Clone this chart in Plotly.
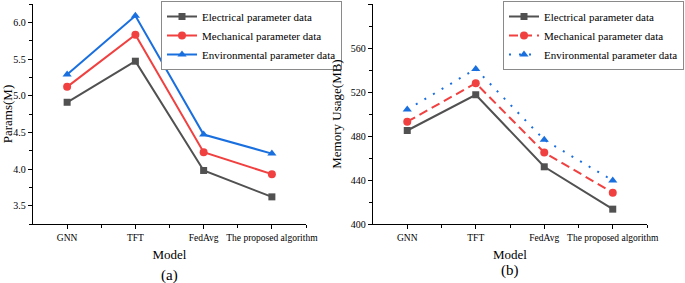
import plotly.graph_objects as go
from plotly.subplots import make_subplots

models = ["GNN", "TFT", "FedAvg", "The proposed algorithm"]
series_names = ["Electrical parameter data", "Mechanical parameter data", "Environmental parameter data"]

params_electrical = [4.91, 5.47, 3.98, 3.62]
params_mechanical = [5.12, 5.83, 4.23, 3.93]
params_environmental = [5.29, 6.09, 4.47, 4.21]

mem_electrical = [485, 517.5, 452, 413.5]
mem_mechanical = [493, 528, 465, 428.5]
mem_environmental = [504, 541, 476.5, 439.5]

colors = ["#515151", "#F14040", "#1A6FDF"]
symbols = ["square", "circle", "triangle-up"]
msizes = [7, 8, 8]
FONT = "Liberation Serif"

xpos = list(range(len(models)))

fig = make_subplots(rows=1, cols=2, horizontal_spacing=0.1)

left_data = [params_electrical, params_mechanical, params_environmental]
right_data = [mem_electrical, mem_mechanical, mem_environmental]
right_dash = ["solid", "9px,5px", "2px,8px"]

for i, (name, vals) in enumerate(zip(series_names, left_data)):
    fig.add_trace(go.Scatter(
        x=xpos, y=vals, name=name, mode="lines+markers",
        line=dict(color=colors[i], width=2),
        marker=dict(symbol=symbols[i], size=msizes[i], color=colors[i]),
        legend="legend"), row=1, col=1)

for i, (name, vals) in enumerate(zip(series_names, right_data)):
    fig.add_trace(go.Scatter(
        x=xpos, y=vals, name=name, mode="lines+markers",
        line=dict(color=colors[i], width=2, dash=right_dash[i]),
        marker=dict(symbol=symbols[i], size=msizes[i], color=colors[i]),
        legend="legend2"), row=1, col=2)

xaxis_common = dict(
    tickmode="array", tickvals=xpos, ticktext=models, range=[-0.5, 3.5],
    showline=True, linecolor="black", linewidth=1.3, ticks="outside",
    ticklen=4, tickcolor="black", showgrid=False, zeroline=False, tickangle=0,
    tickfont=dict(family=FONT, size=9.5, color="black"),
    minor=dict(tickvals=[0.5, 1.5, 2.5, 3.5], ticks="outside", ticklen=3, tickcolor="black"),
    title=dict(text="Model", font=dict(family=FONT, size=13, color="black"), standoff=8),
)
fig.update_xaxes(**xaxis_common, domain=[33/685, 306/685], row=1, col=1)
fig.update_xaxes(**xaxis_common, domain=[373/685, 647/685], row=1, col=2)

yaxis_common = dict(
    showline=True, linecolor="black", linewidth=1.3, ticks="outside",
    ticklen=4, tickcolor="black", showgrid=False, zeroline=False,
    tickfont=dict(family=FONT, size=10, color="black"),
)
fig.update_yaxes(**yaxis_common, range=[3.25, 6.25], tickvals=[3.5, 4.0, 4.5, 5.0, 5.5, 6.0],
                 tickformat=".1f",
                 minor=dict(tickvals=[3.25, 3.75, 4.25, 4.75, 5.25, 5.75, 6.25], ticks="outside",
                            ticklen=3, tickcolor="black"),
                 title=dict(text="Params(M)", font=dict(family=FONT, size=13, color="black"), standoff=6),
                 row=1, col=1)
fig.update_yaxes(**yaxis_common, range=[400, 600], tickvals=[400, 440, 480, 520, 560, 600],
                 minor=dict(tickvals=[420, 460, 500, 540, 580], ticks="outside",
                            ticklen=3, tickcolor="black"),
                 title=dict(text="Memory Usage(MB)", font=dict(family=FONT, size=13, color="black"), standoff=6),
                 row=1, col=2)

fig.update_layout(
    width=685, height=283,
    margin=dict(l=0, r=0, t=4, b=59, autoexpand=False),
    paper_bgcolor="white", plot_bgcolor="white",
    font=dict(family=FONT, color="black"),
    showlegend=True,
)
for key, xpix in (("legend", 161), ("legend2", 503)):
    fig.layout[key] = dict(
        font=dict(family=FONT, size=11, color="black"),
        bgcolor="white", bordercolor="#8a8a8a", borderwidth=1,
        xanchor="left", yanchor="top", yref="paper", y=1 + 3/220,
        x=xpix/685, tracegroupgap=0, itemwidth=30,
    )

fig.add_annotation(text="(a)", xref="paper", yref="paper", x=(33+306)/2/685, y=(224-275)/220,
                   showarrow=False, font=dict(family=FONT, size=15, color="black"),
                   xanchor="center", yanchor="middle")
fig.add_annotation(text="(b)", xref="paper", yref="paper", x=(373+647)/2/685, y=(224-270)/220,
                   showarrow=False, font=dict(family=FONT, size=15, color="black"),
                   xanchor="center", yanchor="middle")

fig.write_html("out.html", config={"displayModeBar": False},
               post_script="document.body.style.margin='0';document.body.style.overflow='hidden';")
